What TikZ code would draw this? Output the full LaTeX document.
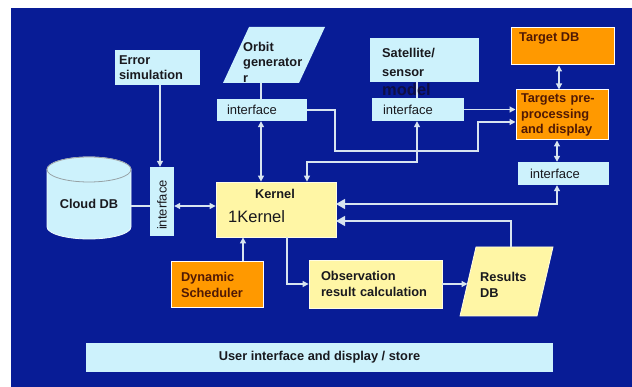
\documentclass[tikz,border=0pt]{standalone}
\usepackage{fontspec}
\setmainfont{Liberation Sans}
\usetikzlibrary{arrows.meta,calc}
\definecolor{bgblue}{RGB}{8,28,150}
\definecolor{lc}{RGB}{205,242,252}
\definecolor{yl}{RGB}{255,246,165}
\definecolor{org}{RGB}{255,153,0}
\definecolor{ink}{RGB}{25,25,30}
\definecolor{brn}{RGB}{80,25,5}
\definecolor{wire}{RGB}{215,228,240}
\definecolor{navy}{RGB}{15,15,70}
\tikzset{
  smtip/.tip={Triangle[length=6pt,width=6pt]},
  bigtip/.tip={Triangle[length=9pt,width=10pt]},
  lbl/.style={font=\fontsize{12.8}{15.5}\selectfont\bfseries, text=ink, inner sep=0pt},
  olbl/.style={lbl, text=brn},
  ifc/.style={font=\fontsize{13}{15}\selectfont, text=ink},
  lbox/.style={fill=lc, draw=none, inner sep=0pt, align=left},
  ybox/.style={fill=yl, draw=white!70!yl, line width=0.8pt, inner sep=0pt, align=left},
  obox/.style={fill=org, draw=white, line width=1pt, inner sep=0pt, align=left},
  ln/.style={draw=wire, line width=1.2pt},
  arr/.style={ln, -smtip},
  dbl/.style={ln, smtip-smtip},
  karr/.style={ln, smtip-bigtip},
  kone/.style={ln, -bigtip}
}
\begin{document}
\begin{tikzpicture}[x=1pt,y=-1pt]
\useasboundingbox (0,0) rectangle (632,387);
\fill[white] (0,0) rectangle (632,387);
\fill[bgblue] (11,8) rectangle (632,387);

% helper coordinates
\coordinate (orbB) at (261,83);
\coordinate (satB) at (417,82);
\coordinate (xA) at (559,0);
\coordinate (xB) at (557,0);
\coordinate (kA) at (307,162);
\coordinate (kR1) at (336,204);
\coordinate (kR2) at (336,221);
\coordinate (resT) at (511,247);
\coordinate (resW) at (467.5,284);
\coordinate (cloudE) at (131,206);
\coordinate (c1) at (335,151);
\coordinate (c2) at (478,122);
\coordinate (xS) at (243,0);
\coordinate (xK) at (287,0);
\coordinate (xE) at (160,0);

% Error simulation
\node[lbox, lbl, minimum width=85pt, minimum height=35pt, text width=77pt] (err) at (157.5,67.5) {Error\\simulation};

% Orbit generator parallelogram
\fill[lc] (249,27) -- (325,27) -- (299,83) -- (223,83) -- cycle;
\node[lbl, anchor=west, align=left] (orb) at (243,62) {Orbit\\generator\\r};
\node[lbox, ifc, minimum width=90pt, minimum height=22pt, text width=70pt] (oif) at (262,110) {interface};

% Satellite / sensor
\node[lbox, minimum width=109pt, minimum height=44pt] (sat) at (424.5,60) {};
\node[lbl, anchor=west, align=left] (satt) at (382,62.5) {Satellite/\\[3pt]sensor};
\node[lbox, ifc, minimum width=92pt, minimum height=23pt, text width=70pt] (sif) at (418,109.5) {interface};
\draw[ln] (satB) -- (satB |- sif.north);
\node[anchor=base west, inner sep=0pt, font=\fontsize{16.5}{18}\selectfont\bfseries, text=navy] (mdl) at (382,96) {model};

% Target DB
\node[obox, minimum width=103pt, minimum height=37pt] (tdb) at (562.5,46.5) {};
\node[olbl, anchor=west] (tdbt) at (519,38) {Target DB};
\node[obox, olbl, minimum width=92pt, minimum height=50pt, text width=82pt] (tgt) at (562,115) {Targets pre-\\processing\\and display};
\node[lbox, ifc, minimum width=91pt, minimum height=23pt, text width=67pt] (tif) at (563.5,173.5) {interface};

% Cloud DB cylinder
\path[fill=lc, draw=white!75!lc, line width=0.8pt] (47,169.5) -- (47,227) arc[start angle=180, end angle=360, x radius=42pt, y radius=12pt] -- (131,169.5) arc[start angle=0, end angle=180, x radius=42pt, y radius=12.5pt] -- cycle;
\draw[draw=gray!70!lc, line width=0.8pt] (89,169.5) ellipse [x radius=42pt, y radius=12.5pt];
\node[lbl] (cld) at (89,204) {Cloud DB};
\node[lbox, minimum width=24pt, minimum height=69pt] (ci) at (162,201.5) {};
\node[ifc, rotate=90, inner sep=0pt] (cit) at (162,205) {interface};

% Kernel
\node[ybox, minimum width=120pt, minimum height=55pt] (kern) at (276,209.5) {};
\node[lbl] (kt1) at (275,194) {Kernel};
\node[anchor=west, inner sep=0pt, font=\fontsize{16.5}{18}\selectfont, text=ink] (kt2) at (228,217) {1Kernel};

% Dynamic scheduler
\node[obox, olbl, minimum width=92pt, minimum height=46pt, text width=72pt] (sched) at (217,285) {Dynamic\\Scheduler};

% Observation
\node[ybox, lbl, minimum width=133pt, minimum height=48pt, text width=109pt] (obs) at (375.5,284) {Observation\\result calculation};

% Results DB
\path[fill=yl, draw=white!70!yl, line width=0.8pt] (476,247) -- (553,247) -- (537,316) -- (460,316) -- cycle;
\node[lbl, anchor=west, align=left] (res) at (480,285) {Results\\DB};

% User interface bar
\node[lbox, lbl, minimum width=467pt, minimum height=29pt] (user) at (319.5,357.5) {User interface and display / store};

% Connectors
\draw[arr] (err.south -| xE) -- (ci.north -| xE);
\draw[ln] (cloudE) -- (cloudE -| ci.west);
\draw[dbl] (cloudE -| ci.east) -- (cloudE -| kern.west);
\draw[ln] (orbB) -- (orbB |- oif.north);
\draw[dbl] (orbB |- oif.south) -- (orbB |- kern.north);
\draw[dbl] (sif.south -| satB) |- (kA) -- (kA |- kern.north);
\draw[arr] (oif.east) -| (c1) -| (c2) -- (c2 -| tgt.west);
\draw[arr] (sif.east) -- (sif.east -| tgt.west);
\draw[dbl] (tdb.south -| xA) -- (tgt.north -| xA);
\draw[dbl] (tgt.south -| xB) -- (tif.north -| xB);
\draw[karr] (tif.south -| xB) |- (kR1);
\draw[kone] (resT) |- (kR2);
\draw[arr] (sched.north -| xS) -- (kern.south -| xS);
\draw[arr] (kern.south -| xK) |- (obs.west);
\draw[arr] (obs.east) -- (resW);
\end{tikzpicture}
\end{document}
